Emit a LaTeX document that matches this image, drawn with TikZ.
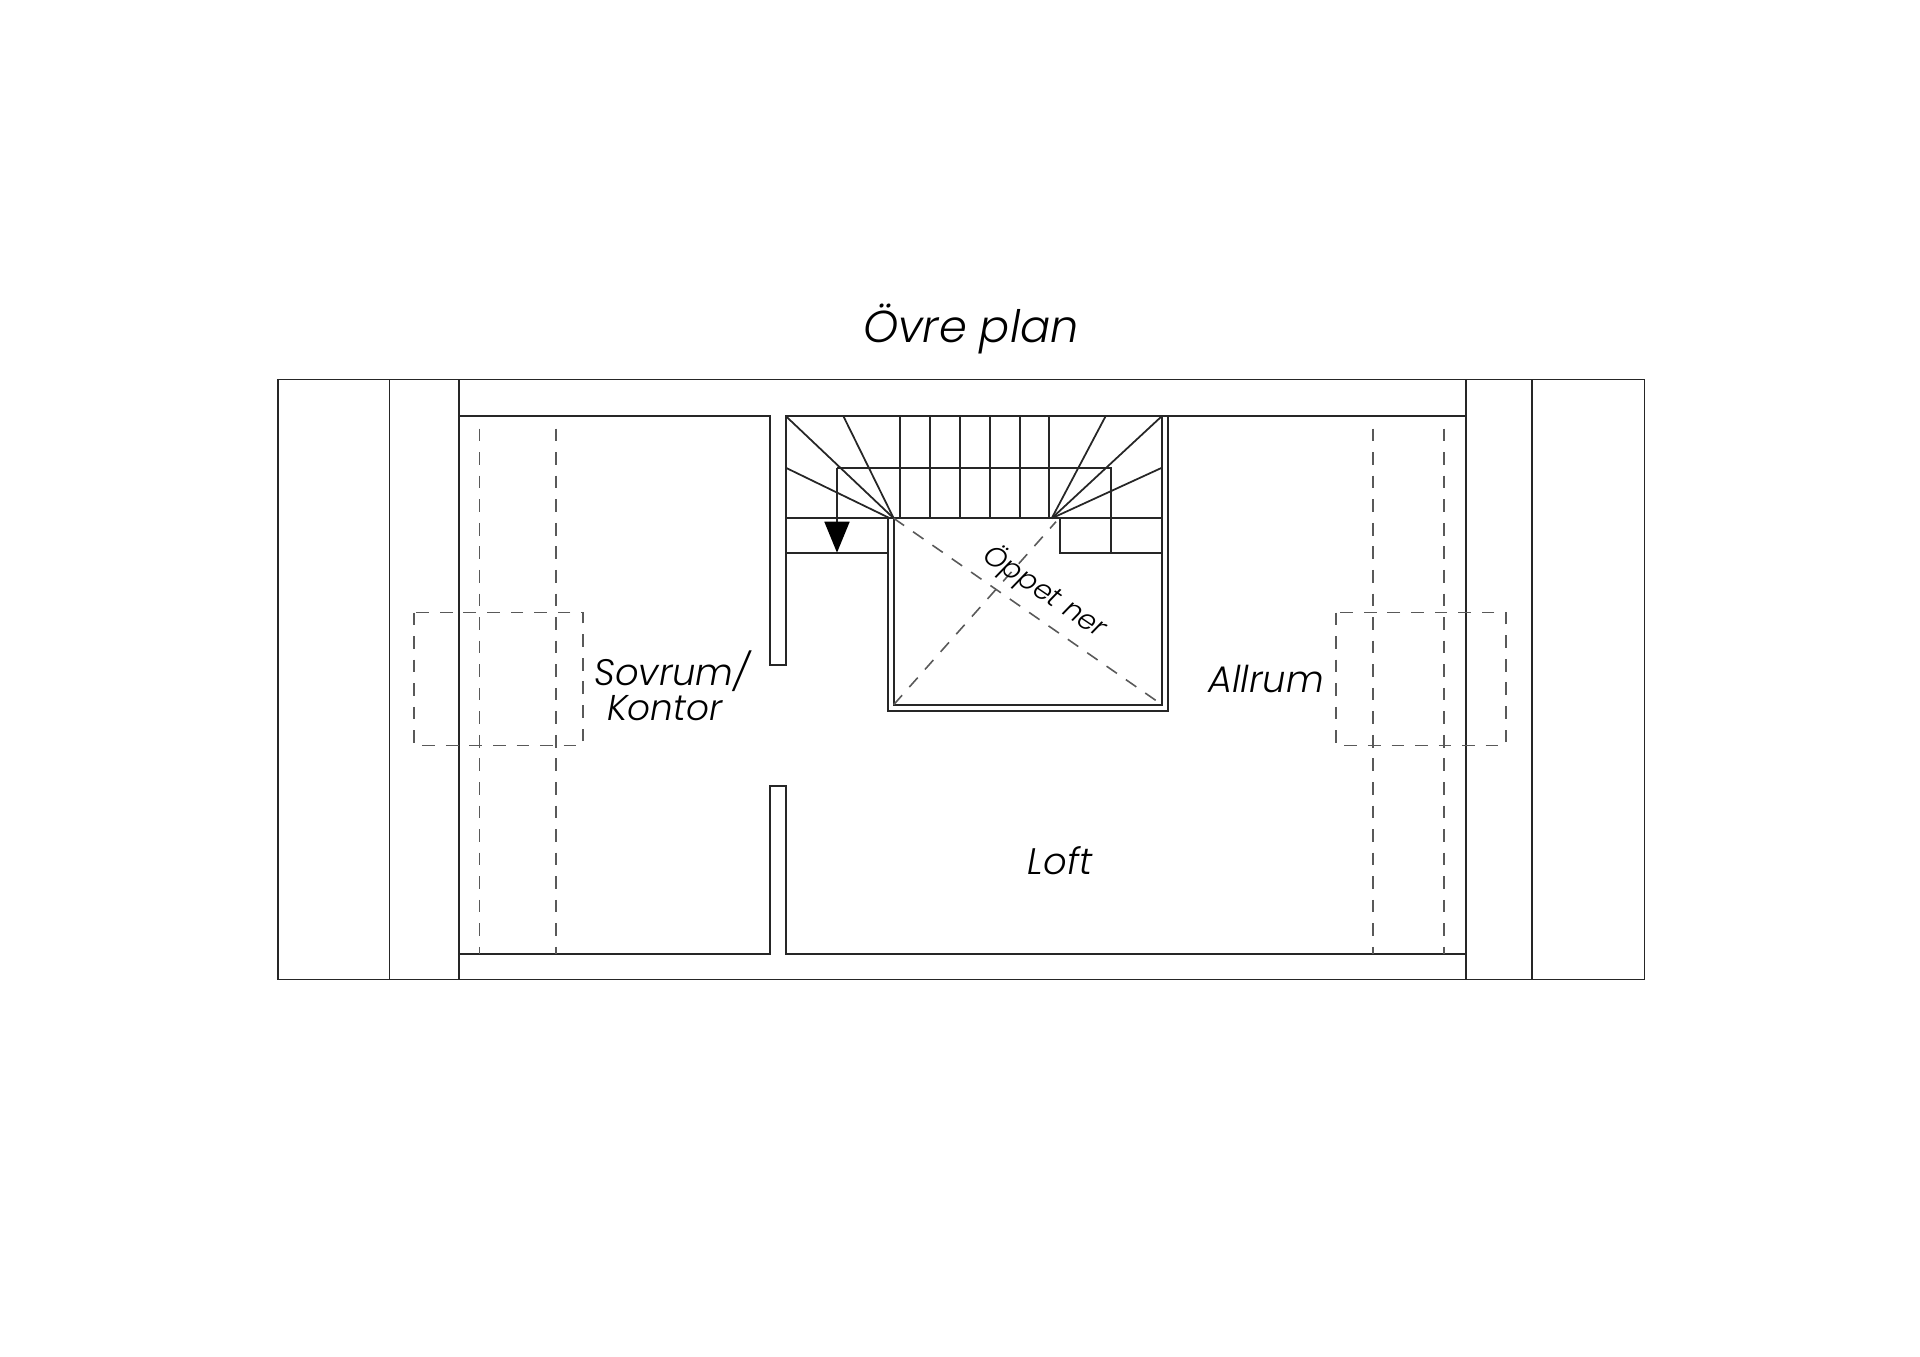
\documentclass[tikz,border=0pt]{standalone}
\usepackage{fontspec}
\setmainfont{Poppins Light}[ItalicFont={Poppins Light Italic}]
\usetikzlibrary{arrows.meta}
\tikzset{
  wall/.style={line width=0.5pt, black!85},
  hidden/.style={line width=0.45pt, black!65, dash pattern=on 3.6pt off 3.1pt},
  roomlabel/.style={font=\itshape\fontsize{10.5}{12}\selectfont, inner sep=0pt},
}
\begin{document}
\begin{tikzpicture}[x=0.01cm, y=-0.01cm]
  \useasboundingbox (0,0) rectangle (1920,1357);
  % outer walls
  \draw [wall] (278,379.5) rectangle (1644.5,979.5);
  \foreach \xwall in {389.4,459.2,1465.8,1531.9}
    \draw [wall] (\xwall,379.5) -- (\xwall,979.5);
  \draw [wall] (459.2,416) -- (770,416) -- (770,665) -- (785.7,665) -- (785.7,416) -- (1465.8,416);
  \draw [wall] (459.2,954) -- (770,954) -- (770,786) -- (785.7,786) -- (785.7,954) -- (1465.8,954);
  % stairs
  \draw [wall] (785.7,518.3) -- (1162,518.3);
  \draw [wall] (785.7,552.7) -- (887.7,552.7);
  \draw [wall] (1060,518.3) -- (1060,552.7) -- (1162,552.7);
  \draw [wall] (837,467.7) -- (1110.7,467.7) -- (1110.7,552.7);
  \draw [wall] (785.7,416) -- (893.7,518.3);
  \draw [wall] (843.3,416) -- (893.7,518.3);
  \draw [wall] (785.7,467.7) -- (890,518.3);
  \draw [wall] (1162,416) -- (1051.7,518.3);
  \draw [wall] (1105.7,416) -- (1051.7,518.3);
  \draw [wall] (1162,467.7) -- (1051.7,518.3);
  \foreach \xstep in {900,930,960,989.7,1019.7,1049.3}
    \draw [wall] (\xstep,416) -- (\xstep,518.3);
  \draw [wall, -{Triangle[length=0.31cm, width=0.25cm, color=black, fill=black]}] (837,467.7) -- (837,552.7);
  % opening
  \draw [wall] (887.7,518.3) -- (887.7,710.7) -- (1167.7,710.7) -- (1167.7,416);
  \draw [wall] (893.7,518.3) -- (893.7,704.7) -- (1162,704.7) -- (1162,416);
  \draw [hidden] (893.7,518.3) -- (1162,704.7);
  \draw [hidden] (893.7,704.7) -- (1056,521.7);
  % roof windows and beams
  \foreach \xbeam in {479.4,556,1372.7,1443.7}
    \draw [hidden] (\xbeam,428.6) -- (\xbeam,954);
  \draw [hidden] (414,612.5) rectangle (583,745.5);
  \draw [hidden] (1336,612.5) rectangle (1506,745.5);
  % labels
  \node [roomlabel, font=\itshape\fontsize{12.7}{15}\selectfont] (title) at (971,329) {Övre plan};
  \node [roomlabel] (sovrum) at (672,671) {Sovrum/};
  \node [roomlabel, font=\itshape\fontsize{10.2}{12}\selectfont] (kontor) at (665,708) {Kontor};
  \node [roomlabel] (allrum) at (1266,679) {Allrum};
  \node [roomlabel] (loft) at (1060,861) {Loft};
  \node [roomlabel, font=\itshape\fontsize{8}{10}\selectfont, rotate=-34] (oppet) at (1045,592) {Öppet ner};
\end{tikzpicture}
\end{document}
